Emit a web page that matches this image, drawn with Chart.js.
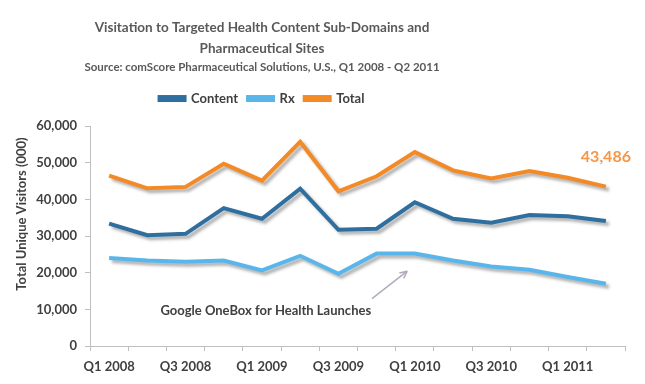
<!DOCTYPE html>
<html>
<head>
<meta charset="utf-8">
<script src="https://cdn.jsdelivr.net/npm/chart.js@4/dist/chart.umd.min.js"></script>
<style>
html,body{margin:0;padding:0;background:#fff;}
#wrap{width:645px;height:384px;position:relative;}
</style>
</head>
<body>
<div id="wrap"><canvas id="c" width="645" height="384"></canvas></div>
<script>
const categories = ["Q1 2008","Q2 2008","Q3 2008","Q4 2008","Q1 2009","Q2 2009","Q3 2009","Q4 2009","Q1 2010","Q2 2010","Q3 2010","Q4 2010","Q1 2011","Q2 2011"];
const contentValues = [33400,30200,30600,37600,34700,42900,31700,32000,39200,34700,33600,35700,35400,34100];
const rxValues = [24000,23300,23000,23300,20600,24600,19700,25200,25200,23300,21700,20800,18800,17000];
const totalValues = [46500,43000,43400,49700,45100,55700,42200,46300,52900,47900,45700,47700,45900,43486];
const yTicks = [0,10000,20000,30000,40000,50000,60000];
const titleLines = ["Visitation to Targeted Health Content Sub-Domains and","Pharmaceutical Sites"];
const subtitleText = "Source: comScore Pharmaceutical Solutions, U.S., Q1 2008 - Q2 2011";
const yAxisTitle = "Total Unique Visitors (000)";
const noteText = "Google OneBox for Health Launches";

const FONT = "Lato";
const TEXT = "#404040";

const shadowPlugin = {
  id: 'shadow',
  beforeDatasetDraw(chart) {
    const ctx = chart.ctx;
    ctx.save();
    ctx.shadowColor = 'rgba(80,80,80,0.45)';
    ctx.shadowBlur = 3;
    ctx.shadowOffsetX = 3;
    ctx.shadowOffsetY = 3;
  },
  afterDatasetDraw(chart) {
    chart.ctx.restore();
  }
};

const shiftTopBoxes = {
  id: 'shiftTop',
  afterLayout(chart) {
    chart.boxes.forEach(b => {
      if (b.position === 'top' && (b === chart.legend || b.options && b.options.text !== undefined)) {
        b.left = 0; b.right = 524;
      }
    });
    if (chart.legend) { chart.legend.top -= 11; chart.legend.bottom -= 11; }
  }
};

const extras = {
  id: 'extras',
  afterDraw(chart) {
    const ctx = chart.ctx;
    const x = chart.scales.x, y = chart.scales.y;
    ctx.save();
    ctx.translate(22, 214);
    ctx.rotate(-Math.PI/2);
    ctx.font = "bold 13px " + FONT;
    ctx.fillStyle = TEXT;
    ctx.textAlign = 'center';
    ctx.textBaseline = 'middle';
    ctx.fillText(yAxisTitle, 0, 0);
    ctx.restore();

    const last = totalValues.length - 1;
    ctx.save();
    ctx.font = "bold 16px " + FONT;
    ctx.fillStyle = '#f79646';
    ctx.textAlign = 'center';
    ctx.textBaseline = 'middle';
    ctx.fillText(totalValues[last].toLocaleString('en-US'), x.getPixelForValue(last), y.getPixelForValue(51700));
    ctx.restore();

    ctx.save();
    ctx.font = "bold 13px " + FONT;
    ctx.fillStyle = TEXT;
    ctx.textAlign = 'center';
    ctx.textBaseline = 'middle';
    ctx.fillText(noteText, x.getPixelForValue(4.1), y.getPixelForValue(9600));
    const x1 = x.getPixelForValue(6.88), y1 = y.getPixelForValue(12900);
    const x2 = x.getPixelForValue(7.8), y2 = y.getPixelForValue(20400);
    ctx.strokeStyle = '#b3a9bd';
    ctx.lineWidth = 1.5;
    ctx.beginPath(); ctx.moveTo(x1, y1); ctx.lineTo(x2, y2); ctx.stroke();
    const ang = Math.atan2(y2 - y1, x2 - x1);
    ctx.beginPath();
    ctx.moveTo(x2, y2);
    ctx.lineTo(x2 - 8*Math.cos(ang - 0.45), y2 - 8*Math.sin(ang - 0.45));
    ctx.moveTo(x2, y2);
    ctx.lineTo(x2 - 8*Math.cos(ang + 0.45), y2 - 8*Math.sin(ang + 0.45));
    ctx.stroke();
    ctx.restore();
  }
};

const mkDs = (label, data, color) => ({
  label, data,
  borderColor: color, backgroundColor: color,
  borderWidth: 4, pointRadius: 0, pointHoverRadius: 0,
  tension: 0, fill: false
});

new Chart(document.getElementById('c'), {
  type: 'line',
  data: {
    labels: categories,
    datasets: [
      mkDs('Content', contentValues, '#2f6f9f'),
      mkDs('Rx', rxValues, '#5ab6ea'),
      mkDs('Total', totalValues, '#f48a25')
    ]
  },
  plugins: [shadowPlugin, shiftTopBoxes, extras],
  options: {
    responsive: false,
    animation: false,
    events: [],
    layout: { padding: { left: 0, right: 20, top: 17, bottom: 0 } },
    plugins: {
      title: {
        display: true,
        text: titleLines,
        color: '#595959',
        font: { family: FONT, size: 13.5, weight: 'bold', lineHeight: 1.556 },
        padding: { top: 0, bottom: 0 }
      },
      subtitle: {
        display: true,
        text: subtitleText,
        color: '#595959',
        font: { family: FONT, size: 11.5, weight: 'bold', lineHeight: 1.48 },
        padding: { top: 0, bottom: 17 }
      },
      legend: {
        display: true,
        labels: {
          color: TEXT,
          font: { family: FONT, size: 13, weight: 'bold' },
          boxWidth: 25, boxHeight: 3, padding: 10
        }
      },
      tooltip: { enabled: false }
    },
    scales: {
      x: {
        type: 'category',
        offset: true,
        grid: { display: true, offset: true, drawOnChartArea: false, drawTicks: true, tickLength: 5, color: '#bfbfbf' },
        border: { color: '#bfbfbf', width: 1 },
        ticks: {
          autoSkip: false, maxRotation: 0, minRotation: 0,
          color: TEXT, font: { family: FONT, size: 13, weight: 'bold' }, padding: 8,
          callback(v, i) { return i % 2 === 0 ? categories[i] : ''; }
        },
        afterFit(s) { s.height = 38; }
      },
      y: {
        min: 0, max: 60000,
        afterBuildTicks(s) { s.ticks = yTicks.map(v => ({ value: v })); },
        grid: { display: true, drawOnChartArea: false, drawTicks: true, tickLength: 5, color: '#bfbfbf' },
        border: { color: '#bfbfbf', width: 1 },
        ticks: {
          color: TEXT, font: { family: FONT, size: 13, weight: 'bold' }, padding: 8,
          callback(v) { return v.toLocaleString('en-US'); }
        },
        afterFit(s) { s.width = 90; }
      }
    }
  }
});
</script>
</body>
</html>
